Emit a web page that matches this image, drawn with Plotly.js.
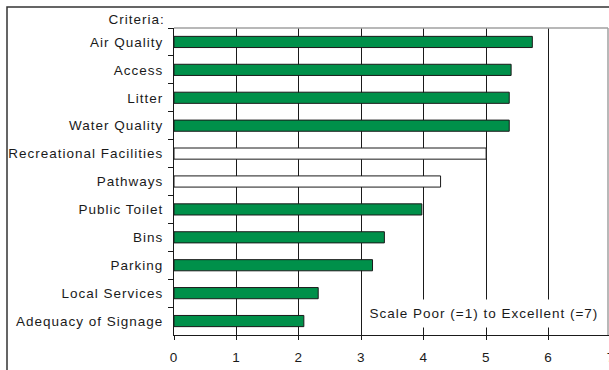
<!DOCTYPE html>
<html>
<head>
<meta charset="utf-8">
<script src="https://cdn.plot.ly/plotly-3.0.1.min.js"></script>
<style>
html,body{margin:0;padding:0;overflow:hidden;background:#fff;width:609px;height:370px;}
#chart{width:620px;height:370px;}
#chart svg text{letter-spacing:1px;}
</style>
</head>
<body>
<div id="chart"></div>
<script>
var criteria = ["Air Quality","Access","Litter","Water Quality","Recreational Facilities","Pathways","Public Toilet","Bins","Parking","Local Services","Adequacy of Signage"];
var scores = [5.74, 5.40, 5.37, 5.37, 5.00, 4.27, 3.97, 3.37, 3.18, 2.31, 2.08];
var barColors = ["#00904a","#00904a","#00904a","#00904a","#ffffff","#ffffff","#00904a","#00904a","#00904a","#00904a","#00904a"];
var xTicks = [0,1,2,3,4,5,6,7];
var scaleNote = "Scale Poor (=1) to Excellent (=7)";
var axisHeading = "Criteria:";

var font = {family: "Liberation Sans, Arial, sans-serif", size: 13.5, color: "#1a1a1a"};

var trace = {
  type: "bar",
  orientation: "h",
  x: scores,
  y: criteria,
  marker: {color: barColors, line: {color: "#1a1a1a", width: 1}},
  width: 0.4,
  hoverinfo: "skip"
};

var layout = {
  width: 620, height: 370,
  margin: {l: 174, r: 9, t: 28, b: 35, pad: 0},
  paper_bgcolor: "#ffffff",
  plot_bgcolor: "#ffffff",
  font: font,
  showlegend: false,
  xaxis: {
    range: [0, 7],
    tickvals: xTicks,
    ticktext: xTicks.map(String),
    showgrid: true, gridcolor: "#1a1a1a", gridwidth: 1,
    zeroline: false,
    showline: true, linecolor: "#1a1a1a", linewidth: 1,
    ticks: "outside", ticklen: 4, tickcolor: "#1a1a1a",
    ticklabelstandoff: 6,
    tickfont: font,
    fixedrange: true
  },
  yaxis: {
    type: "category",
    autorange: "reversed",
    showgrid: false,
    zeroline: false,
    showline: true, linecolor: "#1a1a1a", linewidth: 1,
    ticks: "outside", ticklen: 5, tickcolor: "#1a1a1a",
    tickson: "boundaries",
    ticklabelstandoff: 7,
    tickfont: font,
    fixedrange: true
  },
  shapes: [
    {type: "line", xref: "paper", yref: "paper", x0: 0, x1: 434/437, y0: 1, y1: 1, line: {color: "#a0a0a0", width: 1.5}},
    {type: "line", xref: "paper", yref: "paper", x0: 434/437, x1: 434/437, y0: 0, y1: 1, line: {color: "#a0a0a0", width: 1.5}},
    {type: "rect", xref: "paper", yref: "paper", x0: -167/437, x1: 1.2, y0: -0.3, y1: 1 + 21/307, line: {color: "#333333", width: 1.5}, layer: "above"}
  ],
  annotations: [
    {xref: "paper", yref: "paper", x: -12/437, y: 1 + 8/307, xanchor: "right", yanchor: "middle", text: axisHeading, showarrow: false, font: font},
    {xref: "x", yref: "paper", x: 4.97, y: 22/307, xanchor: "center", yanchor: "middle", text: scaleNote, showarrow: false, font: font, bgcolor: "#ffffff", borderpad: 6}
  ]
};

Plotly.newPlot("chart", [trace], layout, {displayModeBar: false, staticPlot: true});
</script>
</body>
</html>
